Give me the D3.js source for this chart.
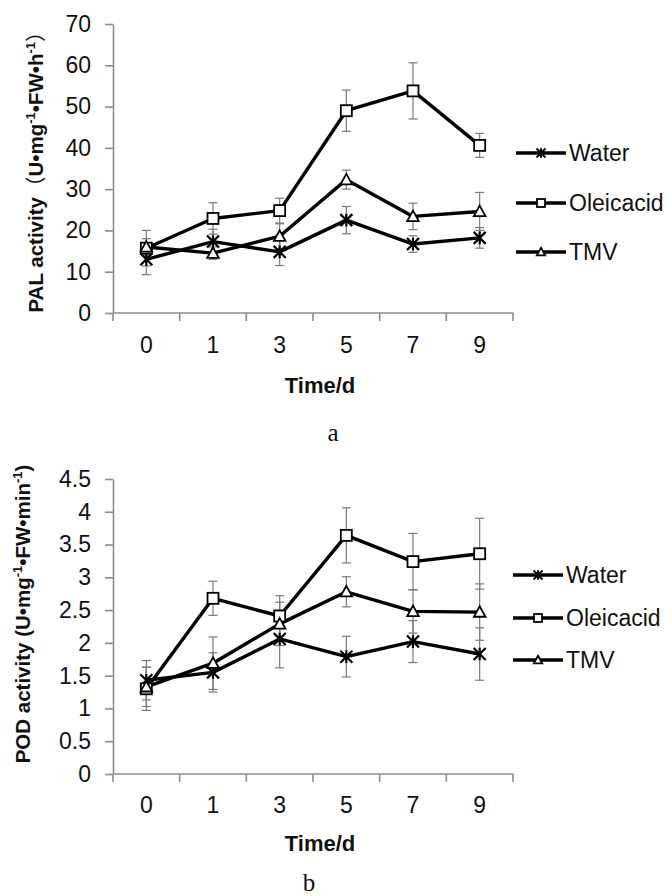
<!DOCTYPE html>
<html><head><meta charset="utf-8">
<script src="https://cdn.jsdelivr.net/npm/d3@7/dist/d3.min.js"></script>
<style>
html,body{margin:0;padding:0;background:#fff;}
svg{display:block;font-family:"Liberation Sans",Arial,sans-serif;}
</style></head>
<body>
<svg id="c" width="672" height="896"></svg>
<script>
const days = ["0","1","3","5","7","9"];
const seriesNames = ["Water","Oleicacid","TMV"];

const palWater    = [13.0,17.3,14.8,22.5,16.7,18.2];
const palWaterErr = [3.7,3.0,3.3,3.3,2.0,2.5];
const palOleic    = [15.7,22.9,24.8,49.0,53.8,40.6];
const palOleicErr = [4.3,3.8,3.0,5.0,6.8,2.9];
const palTMV      = [16.0,14.5,18.6,32.3,23.4,24.6];
const palTMVErr   = [2.0,1.5,3.0,2.3,3.2,4.6];
const palTicks    = [0,10,20,30,40,50,60,70];

const podWater    = [1.43,1.55,2.06,1.79,2.02,1.83];
const podWaterErr = [0.30,0.30,0.44,0.31,0.32,0.40];
const podOleic    = [1.30,2.68,2.41,3.64,3.24,3.36];
const podOleicErr = [0.33,0.26,0.31,0.42,0.43,0.54];
const podTMV      = [1.33,1.69,2.29,2.78,2.48,2.47];
const podTMVErr   = [0.30,0.40,0.33,0.23,0.33,0.43];
const podTicks    = [0,0.5,1,1.5,2,2.5,3,3.5,4,4.5];

const svg = d3.select("#c");
const AX = "#8c8c8c", EB = "#7a7a7a";
const FS = 23;

function marker(g, type, cx, cy, s, legend) {
  const h = s/2;
  if (type === "Water") {
    const p = `M${cx-h},${cy-h}L${cx+h},${cy+h}M${cx-h},${cy+h}L${cx+h},${cy-h}M${cx},${cy-h*1.05}L${cx},${cy+h*1.05}`;
    g.append("path").attr("d", p).attr("stroke","#000").attr("stroke-width", legend?2:2.2).attr("fill","none");
  } else if (type === "Oleicacid") {
    g.append("rect").attr("x",cx-h).attr("y",cy-h).attr("width",s).attr("height",s)
      .attr("fill","#fff").attr("stroke","#000").attr("stroke-width",1.8);
  } else {
    const p = `M${cx},${cy-h*1.05}L${cx+h*1.05},${cy+h*0.85}L${cx-h*1.05},${cy+h*0.85}Z`;
    g.append("path").attr("d", p).attr("fill","#fff").attr("stroke","#000").attr("stroke-width",1.8);
  }
}

function panel(cfg) {
  const g = svg.append("g");
  const x = d3.scaleBand().domain(days).range([113, 513]).padding(0);
  const y = d3.scaleLinear().domain([cfg.ticks[0], cfg.ticks[cfg.ticks.length-1]]).range([cfg.y0, cfg.y1]);

  const ya = d3.axisLeft(y).tickValues(cfg.ticks).tickSize(8).tickSizeOuter(0).tickPadding(14)
      .tickFormat(d => String(d));
  const yg = g.append("g").attr("transform","translate(113,0)").call(ya);
  yg.select(".domain").attr("stroke",AX).attr("stroke-width",1.6);
  yg.selectAll(".tick line").attr("stroke",AX).attr("stroke-width",1.6);
  yg.selectAll(".tick text").attr("font-size",FS).attr("fill","#111")
     .attr("font-family","'Liberation Sans',Arial,sans-serif");

  const xg = g.append("g");
  const bounds = days.map(d => x(d)).concat([x.range()[1]]);
  xg.append("line").attr("x1",x.range()[0]).attr("x2",x.range()[1]).attr("y1",y(0)).attr("y2",y(0))
    .attr("stroke",AX).attr("stroke-width",1.6);
  xg.selectAll(".bt").data(bounds).join("line").attr("x1",d=>d).attr("x2",d=>d)
    .attr("y1",y(0)).attr("y2",y(0)+8).attr("stroke",AX).attr("stroke-width",1.6);
  xg.selectAll(".xl").data(days).join("text").attr("x",d=>x(d)+x.bandwidth()/2).attr("y",cfg.xlabY)
    .attr("text-anchor","middle").attr("font-size",FS).attr("fill","#111").text(d=>d);

  xg.append("text").attr("x",320).attr("y",cfg.xtitleY).attr("text-anchor","middle")
    .attr("font-size",22).attr("font-weight","bold").attr("fill","#111").text("Time/d");

  const yt = g.append("text").attr("transform",`translate(${cfg.ytitleX},${cfg.ytitleY}) rotate(-90)`)
    .attr("text-anchor","middle").attr("font-size",cfg.ytitleSize).attr("font-weight","bold").attr("fill","#111");
  cfg.ytitle(yt);

  const cx = d => x(d)+x.bandwidth()/2;
  cfg.series.forEach(s => {
    const eg = g.append("g");
    days.forEach((d,i) => {
      const v = s.values[i], e = s.err[i];
      const X = cx(d);
      eg.append("line").attr("x1",X).attr("x2",X).attr("y1",y(v-e)).attr("y2",y(v+e)).attr("stroke",EB).attr("stroke-width",1.2);
      [v-e, v+e].forEach(t => eg.append("line").attr("x1",X-4.5).attr("x2",X+4.5).attr("y1",y(t)).attr("y2",y(t)).attr("stroke",EB).attr("stroke-width",1.2));
    });
  });
  cfg.series.forEach(s => {
    const line = d3.line().x((v,i)=>cx(days[i])).y(v=>y(v));
    g.append("path").attr("d", line(s.values)).attr("fill","none").attr("stroke","#000").attr("stroke-width",3.4).attr("stroke-linejoin","round");
  });
  cfg.series.forEach(s => {
    const mg = g.append("g");
    s.values.forEach((v,i) => marker(mg, s.name, cx(days[i]), y(v), s.name==="Water"?12:11, false));
  });

  const lg = g.append("g");
  cfg.series.forEach((s,i) => {
    const ly = cfg.legY[i];
    lg.append("line").attr("x1",cfg.legX).attr("x2",cfg.legX+50).attr("y1",ly).attr("y2",ly).attr("stroke","#000").attr("stroke-width",3.4);
    marker(lg, s.name, cfg.legX+25, ly, s.name==="Water"?9:8, true);
    lg.append("text").attr("x",cfg.legX+53).attr("y",ly).attr("dy","0.36em").attr("font-size",FS).attr("fill","#111").text(s.name);
  });

  svg.append("text").attr("x",cfg.capX).attr("y",cfg.capY).attr("text-anchor","middle")
    .attr("font-family","'Liberation Serif','Times New Roman',serif").attr("font-size",25).attr("fill","#111").text(cfg.cap);
}

panel({
  ticks: palTicks, y0: 313, y1: 24, xlabY: 353, xtitleY: 393,
  ytitleX: 43, ytitleY: 167, ytitleSize: 20.5,
  ytitle: t => {
    t.append("tspan").text("PAL activity");
    t.append("tspan").attr("font-weight","normal").attr("font-family","'Noto Sans CJK SC',sans-serif").text("（");
    t.append("tspan").text("U•mg");
    t.append("tspan").attr("font-size",13).attr("dy",-8).text("-1");
    t.append("tspan").attr("dy",8).text("•FW•h");
    t.append("tspan").attr("font-size",13).attr("dy",-8).text("-1");
    t.append("tspan").attr("dy",8).attr("font-weight","normal").attr("font-family","'Noto Sans CJK SC',sans-serif").text("）");
  },
  series: [
    {name:"Water", values: palWater, err: palWaterErr},
    {name:"Oleicacid", values: palOleic, err: palOleicErr},
    {name:"TMV", values: palTMV, err: palTMVErr}
  ],
  legX: 516, legY: [153, 203, 252],
  cap: "a", capX: 333, capY: 441
});

panel({
  ticks: podTicks, y0: 774, y1: 479, xlabY: 813, xtitleY: 851,
  ytitleX: 30, ytitleY: 614, ytitleSize: 20.5,
  ytitle: t => {
    t.append("tspan").text("POD activity (U•mg");
    t.append("tspan").attr("font-size",13).attr("dy",-8).text("-1");
    t.append("tspan").attr("dy",8).text("•FW•min");
    t.append("tspan").attr("font-size",13).attr("dy",-8).text("-1");
    t.append("tspan").attr("dy",8).text(")");
  },
  series: [
    {name:"Water", values: podWater, err: podWaterErr},
    {name:"Oleicacid", values: podOleic, err: podOleicErr},
    {name:"TMV", values: podTMV, err: podTMVErr}
  ],
  legX: 513, legY: [575, 618, 660],
  cap: "b", capX: 309, capY: 891
});
</script>
</body></html>
